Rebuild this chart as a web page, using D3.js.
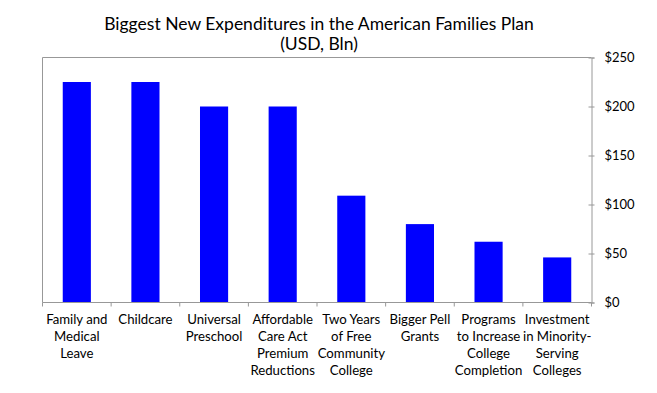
<!DOCTYPE html>
<html><head><meta charset="utf-8">
<script src="https://cdn.jsdelivr.net/npm/d3@7"></script>
<style>body{margin:0;background:#fff}svg{display:block}</style>
</head><body><svg id="c" width="657" height="393"></svg>
<script>
const categories = [
  ["Family and","Medical","Leave"],
  ["Childcare"],
  ["Universal","Preschool"],
  ["Affordable","Care Act","Premium","Reductions"],
  ["Two Years","of Free","Community","College"],
  ["Bigger Pell","Grants"],
  ["Programs","to Increase","College","Completion"],
  ["Investment","in Minority-","Serving","Colleges"]
];
const values = [225, 225, 200, 200, 109, 80, 62, 46];
const yTicks = [0, 50, 100, 150, 200, 250];
const titleLines = ["Biggest New Expenditures in the American Families Plan", "(USD, Bln)"];

const font = "Lato, 'Open Sans', sans-serif";
const svg = d3.select("#c");
const L = 42.5, R = 591.5, T = 57.5, B = 302.5;
const keys = categories.map((d,i)=>i);
const x = d3.scaleBand().domain(keys).range([L, R]).paddingInner(0.59).paddingOuter(0.295);
const xb = d3.scaleBand().domain(keys).range([L, R]);
const y = d3.scaleLinear().domain([0, 250]).range([B, T]);
const gray = "#989898";

svg.append("path").attr("d", `M${L},${B}V${T}H${R}`).attr("fill","none").attr("stroke",gray).attr("stroke-width",1);

svg.append("g").selectAll("rect").data(values).join("rect")
  .attr("x",(d,i)=>x(i)).attr("width",x.bandwidth())
  .attr("y",d=>y(d)).attr("height",d=>y(0)-y(d)).attr("fill","#0000ff");

const ya = svg.append("g").attr("transform",`translate(${R},0)`)
  .call(d3.axisRight(y).tickValues(yTicks).tickSize(3).tickPadding(10).tickFormat(d=>"$"+d));
ya.select(".domain").attr("stroke",gray);
ya.selectAll(".tick line").attr("stroke",gray).attr("x1",-3);
ya.selectAll("text").attr("font-family",font).attr("font-size",13).attr("fill","#000");

const bx = svg.append("g").attr("transform",`translate(0,${B})`);
bx.append("line").attr("x1",L).attr("x2",R).attr("stroke",gray);
const bounds = keys.map(k=>xb(k)).concat([R]);
bx.selectAll("line.t").data(bounds).join("line").attr("class","t")
  .attr("x1",d=>d).attr("x2",d=>d).attr("y1",0).attr("y2",4).attr("stroke",gray);

const lab = svg.append("g").selectAll("text").data(categories).join("text")
  .attr("font-family",font).attr("font-size",13.2).attr("text-anchor","middle").attr("fill","#000");
lab.each(function(lines,i){
  d3.select(this).selectAll("tspan").data(lines).join("tspan")
    .attr("x", xb(i)+xb.bandwidth()/2).attr("y",(d,j)=>324+j*17).text(d=>d);
});

svg.append("g").selectAll("text").data(titleLines).join("text")
  .attr("x",(L+R)/2 + 2).attr("y",(d,i)=>30+i*20).attr("text-anchor","middle")
  .attr("font-family",font).attr("font-size",17.5).attr("fill","#000").text(d=>d);
</script></body></html>
